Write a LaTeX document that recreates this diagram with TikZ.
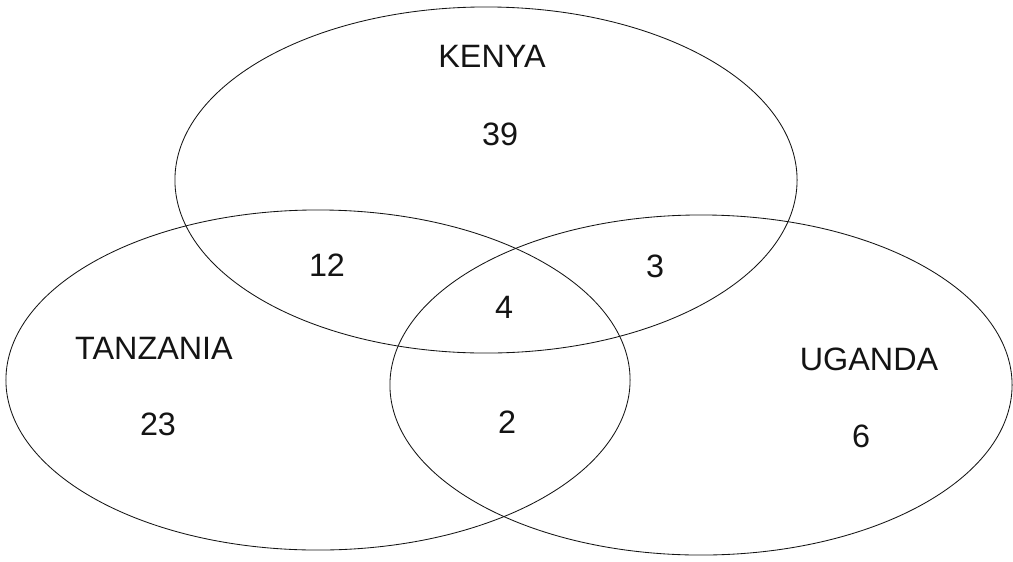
\documentclass[tikz,border=0pt]{standalone}
\usepackage{fontspec}
\setmainfont{Liberation Sans}
\usetikzlibrary{shapes.geometric}
\definecolor{VennInk}{RGB}{20,20,20}
\tikzset{
  venn/set/.style={
    ellipse,
    draw=VennInk,
    line width=0.6pt,
    inner sep=0pt,
    outer sep=0pt
  },
  venn/name/.style={font=\fontsize{23}{27}\selectfont, text=VennInk, inner sep=0pt},
  venn/count/.style={font=\fontsize{23}{27}\selectfont, text=VennInk, inner sep=0pt}
}

\begin{document}
\begin{tikzpicture}[x=0.025cm,y=-0.025cm]
  \useasboundingbox[fill=white] (0,0) rectangle (1013,561);
  \node[venn/set,minimum width=15.55cm,minimum height=8.65cm] (kenya) at (486,180) {};
  \node[venn/set,minimum width=15.6cm,minimum height=8.5cm] (tanzania) at (318,380) {};
  \node[venn/set,minimum width=15.55cm,minimum height=8.5cm] (uganda) at (701,385) {};
  \node[venn/name] (kenyaname) at (492,56) {KENYA};
  \node[venn/name] (tanzanianame) at (154,348) {TANZANIA};
  \node[venn/name] (ugandaname) at (869,359) {UGANDA};
  \node[venn/count] (konly) at (500,134) {39};
  \node[venn/count] (kt) at (327,265) {12};
  \node[venn/count] (ku) at (655,266) {3};
  \node[venn/count] (ktu) at (504,307) {4};
  \node[venn/count] (tu) at (507,422) {2};
  \node[venn/count] (tonly) at (158,424) {23};
  \node[venn/count] (uonly) at (861,436) {6};
\end{tikzpicture}
\end{document}
